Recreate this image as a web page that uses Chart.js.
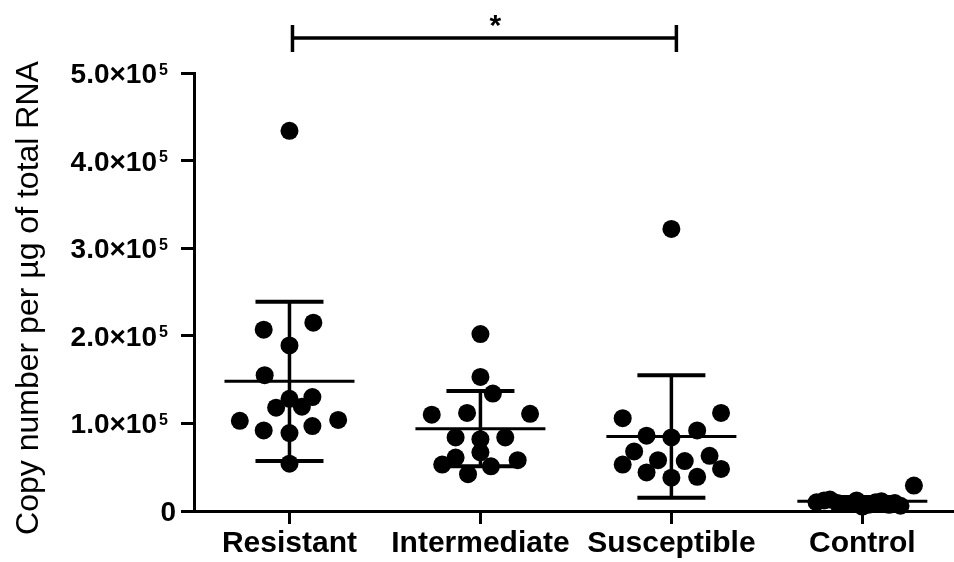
<!DOCTYPE html>
<html>
<head>
<meta charset="utf-8">
<script src="https://cdn.jsdelivr.net/npm/chart.js@4"></script>
<style>
  html, body { margin: 0; padding: 0; background: #fff; }
  canvas { display: block; }
</style>
</head>
<body>
<canvas id="graph1" width="954" height="562"></canvas>
<script>
var categories = ["Resistant", "Intermediate", "Susceptible", "Control"];

// copy number per ug of total RNA, one array per group
var resistant    = [2.07e5, 2.15e5, 1.89e5, 1.55e5, 1.30e5, 1.28e5, 1.18e5, 1.19e5, 1.03e5, 1.04e5, 0.92e5, 0.97e5, 0.89e5, 0.54e5, 4.34e5];
var intermediate = [2.02e5, 1.53e5, 1.34e5, 1.10e5, 1.12e5, 1.11e5, 0.84e5, 0.82e5, 0.84e5, 0.67e5, 0.61e5, 0.53e5, 0.58e5, 0.51e5, 0.42e5];
var susceptible  = [3.22e5, 1.06e5, 1.12e5, 0.86e5, 0.84e5, 0.92e5, 0.68e5, 0.53e5, 0.58e5, 0.44e5, 0.57e5, 0.63e5, 0.48e5, 0.38e5, 0.39e5];
var control      = [0.29e5, 0.10e5, 0.13e5, 0.08e5, 0.12e5, 0.07e5, 0.11e5, 0.09e5, 0.06e5, 0.12e5, 0.08e5, 0.05e5, 0.10e5, 0.07e5, 0.09e5];

// mean and SD as drawn
var means = [1.48e5, 0.94e5, 0.85e5, 0.11e5];
var sds   = [0.91e5, 0.43e5, 0.70e5, 0.05e5];

var yTicks = [0, 1e5, 2e5, 3e5, 4e5, 5e5];

// significance bracket: from group, to group, label
var sigFrom = 0, sigTo = 2, sigLabel = "*";

// horizontal scatter of the dots (in category widths)
var resistantJitter    = [-0.135, 0.125, 0, -0.13, 0.12, 0, -0.07, 0.065, -0.26, 0.255, -0.135, 0.12, 0, 0, 0];
var intermediateJitter = [0, 0, 0.065, -0.255, -0.07, 0.26, -0.13, 0, 0.13, 0, -0.13, -0.2, 0.195, 0.055, -0.065];
var susceptibleJitter  = [0, -0.255, 0.26, -0.13, 0, 0.135, -0.195, -0.255, -0.07, -0.13, 0.07, 0.2, 0.26, 0, 0.135];
var controlJitter      = [0.27, -0.24, -0.17, -0.1, -0.03, 0.03, 0.1, 0.17, 0.2, -0.2, -0.07, 0, 0.07, 0.14, -0.13];

var groups = [resistant, intermediate, susceptible, control];
var jitters = [resistantJitter, intermediateJitter, susceptibleJitter, controlJitter];

var FONT = "'Liberation Sans', Arial, Helvetica, sans-serif";

function seg(c, x1, y1, x2, y2) {
  c.beginPath();
  c.moveTo(x1, y1);
  c.lineTo(x2, y2);
  c.stroke();
}

var extras = {
  id: 'extras',
  afterDatasetsDraw: function(chart) {
    var c = chart.ctx, x = chart.scales.x, y = chart.scales.y;
    c.save();
    c.strokeStyle = '#000';
    c.fillStyle = '#000';

    // mean line and SD bars
    means.forEach(function(m, i) {
      var cx = x.getPixelForValue(i);
      var ym = y.getPixelForValue(m);
      var yt = y.getPixelForValue(m + sds[i]);
      var yb = y.getPixelForValue(m - sds[i]);
      c.lineWidth = 3;
      seg(c, cx - 65, ym, cx + 65, ym);
      c.lineWidth = 3.5;
      seg(c, cx, yt, cx, yb);
      c.lineWidth = 4;
      seg(c, cx - 34, yt, cx + 34, yt);
      seg(c, cx - 34, yb, cx + 34, yb);
    });

    // significance bracket
    var x1 = x.getPixelForValue(sigFrom) + 3, x2 = x.getPixelForValue(sigTo) + 5;
    var by = chart.chartArea.top - 35;
    c.lineWidth = 3.5;
    seg(c, x1, by, x2, by);
    seg(c, x1, by - 13, x1, by + 14);
    seg(c, x2, by - 13, x2, by + 14);
    c.font = 'bold 30px ' + FONT;
    c.textAlign = 'center';
    c.textBaseline = 'alphabetic';
    c.fillText(sigLabel, (x1 + x2) / 2 + 11, by - 3);

    // y tick labels, with superscript exponent
    yTicks.forEach(function(v) {
      var py = y.getPixelForValue(v);
      c.textBaseline = 'alphabetic';
      if (v === 0) {
        c.font = 'bold 28px ' + FONT;
        c.textAlign = 'right';
        c.fillText('0', 176, py + 10);
        return;
      }
      var mant = (v / 1e5).toFixed(1);
      c.font = 'bold 28px ' + FONT;
      c.textAlign = 'right';
      c.fillText(mant + '\u00d710', 157, py + 10);
      c.font = 'bold 16px ' + FONT;
      c.textAlign = 'left';
      c.fillText('5', 159, py + 1.5);
    });

    // y axis title
    c.save();
    c.translate(29, 298);
    c.rotate(-Math.PI / 2);
    c.font = '32px ' + FONT;
    c.textAlign = 'center';
    c.textBaseline = 'middle';
    c.fillText('Copy number per \u00b5g of total RNA', 0, 0);
    c.restore();

    c.restore();
  }
};

var ctx = document.getElementById('graph1').getContext('2d');
var chart = new Chart(ctx, {
  type: 'scatter',
  data: {
    datasets: groups.map(function(vals, i) {
      return {
        label: categories[i],
        data: vals.map(function(v, k) { return { x: i + jitters[i][k], y: v }; }),
        pointRadius: 9,
        pointHoverRadius: 9,
        pointBackgroundColor: '#000',
        pointBorderColor: '#000',
        pointBorderWidth: 0,
        clip: false
      };
    })
  },
  options: {
    responsive: false,
    animation: false,
    events: [],
    layout: { autoPadding: false, padding: { top: 73, right: 0, bottom: 0, left: 0 } },
    plugins: {
      legend: { display: false },
      tooltip: { enabled: false }
    },
    scales: {
      x: {
        type: 'linear',
        min: -0.5,
        max: 3.48,
        afterBuildTicks: function(s) {
          s.ticks = categories.map(function(c, i) { return { value: i }; });
        },
        afterFit: function(s) { s.height = 51; },
        grid: { display: true, drawOnChartArea: false, drawTicks: true, tickLength: 13, tickWidth: 3, color: '#000' },
        border: { display: true, color: '#000', width: 3 },
        ticks: {
          callback: function(v) { return categories[v]; },
          color: '#000',
          font: { family: FONT, size: 30, weight: 'bold' },
          padding: 2,
          maxRotation: 0,
          autoSkip: false
        }
      },
      y: {
        min: 0,
        max: 5e5,
        afterBuildTicks: function(s) {
          s.ticks = yTicks.map(function(v) { return { value: v }; });
        },
        afterFit: function(s) { s.width = 194; },
        grid: { display: true, drawOnChartArea: false, drawTicks: true, tickLength: 13, tickWidth: 3, color: '#000' },
        border: { display: true, color: '#000', width: 3 },
        ticks: { display: false }
      }
    }
  },
  plugins: [extras]
});
</script>
</body>
</html>
